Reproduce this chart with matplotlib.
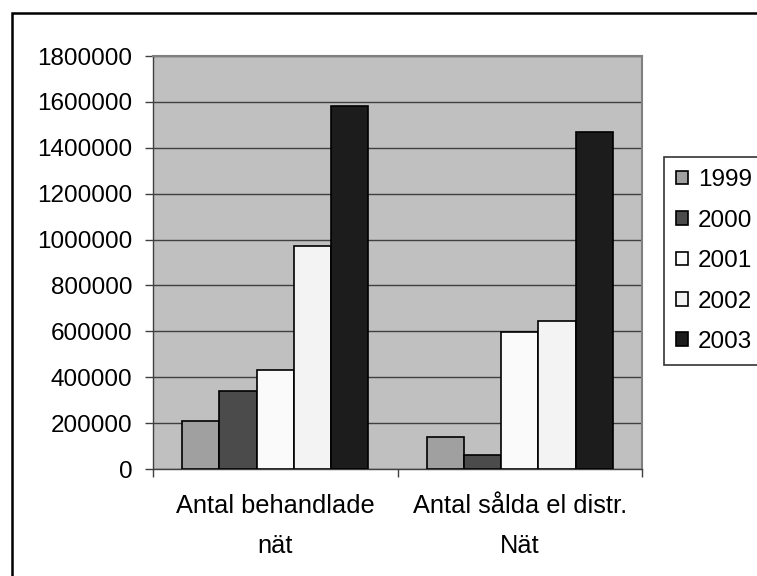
import numpy as np
import matplotlib
matplotlib.use("Agg")
from matplotlib import pyplot as plt
from matplotlib.patches import Rectangle

plt.rcParams['font.family'] = ['Liberation Sans', 'DejaVu Sans']

categories = ['Antal behandlade\nnät', 'Antal sålda el distr.\nNät']
years = ['1999', '2000', '2001', '2002', '2003']
v1999 = [209000, 139000]
v2000 = [338000, 59000]
v2001 = [433000, 598000]
v2002 = [972000, 643000]
v2003 = [1582000, 1470000]
yticks = [0, 200000, 400000, 600000, 800000, 1000000, 1200000, 1400000, 1600000, 1800000]

series = [v1999, v2000, v2001, v2002, v2003]
colors = ['#a0a0a0', '#4b4b4b', '#fafafa', '#f3f3f3', '#1c1c1c']

W, H = 757, 576
fig = plt.figure(figsize=(W / 100, H / 100), dpi=100)

# outer chart border (runs off right/bottom)
fig.patches.append(Rectangle((12 / W, -0.1), 1.2, 1 - 13 / H + 0.1,
                             transform=fig.transFigure, fill=False,
                             edgecolor='black', linewidth=1.8))

ax = fig.add_axes([153 / W, 1 - 469 / H, (642 - 153) / W, (469 - 56) / H])
ax.set_facecolor('#c0c0c0')

bw = 0.1525
x = np.arange(len(categories)) + 0.5
for i, (vals, c) in enumerate(zip(series, colors)):
    ax.bar(x + (i - 2) * bw, vals, bw, color=c, edgecolor='black',
           linewidth=1.2, label=years[i], zorder=3)

ax.set_xlim(0, 2)
ax.set_ylim(0, 1800000)
ax.set_yticks(yticks)
ax.set_yticklabels([str(t) for t in yticks])
ax.set_xticks([0, 1, 2])
ax.set_xticklabels([])
ax.set_xticks(x, minor=True)
ax.set_xticklabels(categories, minor=True, linespacing=1.85)
ax.tick_params(axis='x', which='minor', length=0, pad=18, labelsize=18.3)
ax.tick_params(axis='x', which='major', length=6, width=1, color='#404040')
ax.tick_params(axis='y', length=6, width=1, color='#404040', pad=9, labelsize=17.5)
ax.yaxis.grid(True, color='#404040', linewidth=1, zorder=1)
ax.set_axisbelow(True)

for s in ['left', 'bottom']:
    ax.spines[s].set_color('#404040')
    ax.spines[s].set_linewidth(1)
for s in ['top', 'right']:
    ax.spines[s].set_color('#808080')
    ax.spines[s].set_linewidth(1.5)

leg = fig.legend(loc='upper left', bbox_to_anchor=(664 / W, 1 - 157 / H),
                 borderaxespad=0, fontsize=17.5, frameon=True, fancybox=False,
                 handlelength=0.5, handleheight=0.5, handletextpad=0.4,
                 labelspacing=0.76, borderpad=0.5)
leg.get_frame().set_edgecolor('black')
leg.get_frame().set_linewidth(1.2)

fig.savefig('out.png', dpi=100)
